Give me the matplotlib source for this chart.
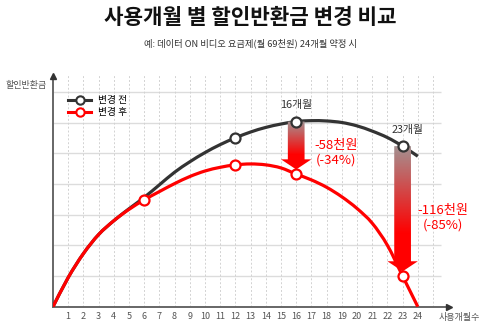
import numpy as np
import matplotlib
matplotlib.use('Agg')
import matplotlib.pyplot as plt
from matplotlib.colors import LinearSegmentedColormap
from matplotlib.patches import Polygon, PathPatch
from matplotlib.path import Path

plt.rcParams['font.family'] = ['Noto Sans CJK KR', 'DejaVu Sans']

# 사용개월수별 할인반환금 (눈금 없는 상대 단위)
months = list(range(0, 25))
before = [0, 0.95, 1.73, 2.35, 2.8, 3.19, 3.56, 3.97, 4.38, 4.72, 5.02, 5.28, 5.5,
          5.69, 5.84, 5.95, 6.03, 6.06, 6.05, 6.0, 5.89, 5.72, 5.51, 5.23, 4.9]
after = [0, 0.95, 1.73, 2.35, 2.8, 3.17, 3.48, 3.75, 4.01, 4.24, 4.42, 4.54, 4.62,
         4.65, 4.62, 4.52, 4.32, 4.13, 3.89, 3.58, 3.2, 2.72, 2.0, 1.0, 0]
before_marks = [12, 16, 23]
after_marks = [6, 12, 16, 23]
compare_months = [16, 23]
compare_labels = ['16개월', '23개월']
diff_labels = ['-58천원\n(-34%)', '-116천원\n(-85%)']
tick_labels = [str(m) for m in range(1, 25)]

BLACK = '#333333'
RED = '#ff0000'


def smooth_path(xs, ys):
    # Catmull-Rom 곡선을 베지어 경로로 변환
    pts = np.column_stack([xs, ys]).astype(float)
    ext = np.vstack([pts[0], pts, pts[-1]])
    verts = [tuple(pts[0])]
    codes = [Path.MOVETO]
    for i in range(1, len(ext) - 2):
        p0, p1, p2, p3 = ext[i - 1], ext[i], ext[i + 1], ext[i + 2]
        c1 = p1 + (p2 - p0) / 6
        c2 = p2 - (p3 - p1) / 6
        verts += [tuple(c1), tuple(c2), tuple(p2)]
        codes += [Path.CURVE4] * 3
    return Path(verts, codes)


fig = plt.figure(figsize=(5, 3.33), dpi=100)
ax = fig.add_axes([53 / 500, 26.3 / 333, 447 / 500, 306.7 / 333])
ax.patch.set_alpha(0)

# 격자
ax.hlines(range(1, 8), 0, 25.5, color='#dcdcdc', lw=1.0, zorder=0)
ax.vlines(range(1, 26), 0, 7.55, color='#d2d2d2', lw=0.7,
          linestyle=(0, (2, 2)), zorder=0)

# 축
for s in ['top', 'right']:
    ax.spines[s].set_visible(False)
ax.spines['left'].set_bounds(0, 7.45)
ax.spines['bottom'].set_bounds(0, 26.0)
for s in ['left', 'bottom']:
    ax.spines[s].set_color('#666666')
    ax.spines[s].set_linewidth(1.4)
ax.plot([0], [7.5], marker='^', color='#333333', ms=5, clip_on=False, zorder=5)
ax.plot([26.05], [0], marker='>', color='#333333', ms=5, clip_on=False, zorder=5)
ax.set_yticks([])
ax.set_xticks(range(1, 25))
ax.set_xticklabels(tick_labels, fontsize=6.5, color='#555555')
ax.tick_params(axis='x', length=0, pad=3.5)
ax.text(26.75, -0.34, '사용개월수', fontsize=6.5, color='#555555',
        ha='center', va='center', clip_on=False)
fig.text(26 / 500, 1 - 85 / 333, '할인반환금', fontsize=6.5, color='#555555',
         ha='center', va='center')

# 곡선
ax.add_patch(PathPatch(smooth_path(months, before), fill=False, edgecolor=BLACK,
                       lw=2.3, capstyle='butt', joinstyle='round', zorder=3))
ax.add_patch(PathPatch(smooth_path(months, after), fill=False, edgecolor=RED,
                       lw=2.3, capstyle='butt', joinstyle='round', zorder=4))

# 감소폭 화살표 (회색 → 빨강 그라데이션)
cmap = LinearSegmentedColormap.from_list(
    'drop', [(0, RED), (0.3, RED), (1.0, '#a39393')])
grad = np.linspace(0, 1, 256).reshape(-1, 1)
for m in compare_months:
    top = before[m]
    tip = after[m] + 0.15
    neck = tip + 0.33
    bw, hw = 0.55, 1.0
    verts = [(m - bw, top), (m + bw, top), (m + bw, neck), (m + hw, neck),
             (m, tip), (m - hw, neck), (m - bw, neck)]
    poly = Polygon(verts, closed=True, facecolor='none', edgecolor='none')
    ax.add_patch(poly)
    im = ax.imshow(grad, cmap=cmap, origin='lower', aspect='auto',
                   extent=[m - hw, m + hw, tip, top], zorder=4.5)
    im.set_clip_path(poly)
ax.set_xlim(0, 447 / 15.2)
ax.set_ylim(0, 306.7 / 30.7)

# 마커
ax.plot(before_marks, [before[m] for m in before_marks], 'o', ms=7.2,
        mfc='white', mec=BLACK, mew=1.6, zorder=6)
ax.plot(after_marks, [after[m] for m in after_marks], 'o', ms=7.2,
        mfc='white', mec=RED, mew=1.6, zorder=6)

# 주석
ax.text(16.0, before[16] + 0.55, compare_labels[0], fontsize=7.8, color='#333333',
        ha='center', va='center')
ax.text(23.3, before[23] + 0.53, compare_labels[1], fontsize=7.8, color='#333333',
        ha='center', va='center')
ax.text(18.65, 5.0, diff_labels[0], fontsize=9.5, color=RED, ha='center',
        va='center', multialignment='center', linespacing=1.15)
ax.text(25.66, 2.9, diff_labels[1], fontsize=9.5, color=RED, ha='center',
        va='center', multialignment='center', linespacing=1.15)

# 범례
leg_handles = [
    plt.Line2D([], [], color=BLACK, lw=2.2, marker='o', ms=6, mfc='white',
               mec=BLACK, mew=1.5),
    plt.Line2D([], [], color=RED, lw=2.2, marker='o', ms=6, mfc='white',
               mec=RED, mew=1.5),
]
fig.legend(leg_handles, ['변경 전', '변경 후'], loc='upper left',
           bbox_to_anchor=(68 / 500, 1 - 95 / 333), frameon=False,
           fontsize=7, borderpad=0, handlelength=2.4, handletextpad=0.7,
           labelspacing=0.25, borderaxespad=0)

# 제목
fig.text(0.5, 1 - 18 / 333, '사용개월 별 할인반환금 변경 비교', fontsize=15.3,
         fontweight='bold', ha='center', va='center', color='#111111')
fig.text(0.5, 1 - 43 / 333, '예: 데이터 ON 비디오 요금제(월 69천원) 24개월 약정 시',
         fontsize=6.7, ha='center', va='center', color='#333333')

fig.savefig('out.png', dpi=100)
